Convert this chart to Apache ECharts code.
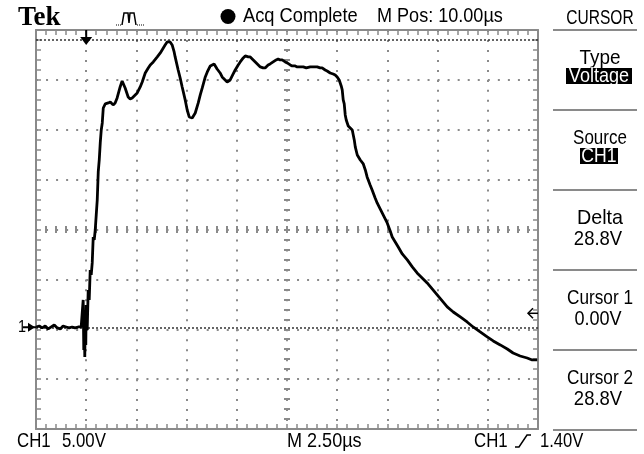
<!DOCTYPE html>
<html><head><meta charset="utf-8">
<script src="https://cdn.jsdelivr.net/npm/echarts@6/dist/echarts.min.js"></script>
<style>html,body{margin:0;padding:0;background:#fff}#c{width:644px;height:454px}</style>
</head><body><div id="c"></div>
<script>
// ---- data (time in µs relative to trigger, CH1 volts) ----
const timeUs = [
 -2.49,-2.34,-2.19,-2.04,-1.89,-1.74,-1.59,-1.44,-1.29,-1.15,-1.00,-0.85,-0.70,-0.55,-0.40,-0.25,
 -0.20,-0.15,-0.12,-0.10,-0.07,-0.05,-0.02,0,0.05,
 0.10,0.15,0.20,0.25,0.30,0.35,0.40,0.45,0.50,0.55,0.60,0.65,0.70,0.75,0.80,0.85,
 0.95,1.10,1.20,1.34,1.44,1.54,1.69,1.79,1.94,2.09,2.19,2.29,2.44,2.54,
 2.69,2.79,2.94,3.09,3.19,3.34,3.54,3.69,3.78,3.93,4.03,4.08,
 4.18,4.28,4.38,4.43,4.58,4.68,4.78,4.93,5.03,5.13,5.28,
 5.43,5.58,5.68,5.78,5.93,6.03,6.18,6.27,6.37,6.52,6.67,6.77,6.92,7.02,7.17,
 7.32,7.42,7.57,7.67,7.82,7.92,8.07,8.17,8.32,8.42,8.57,8.67,8.81,8.91,
 9.06,9.16,9.31,9.46,9.56,9.66,9.76,9.91,10.01,10.16,10.26,10.41,10.51,10.66,10.81,10.96,
 11.16,11.31,11.50,11.65,11.75,11.90,12.00,12.15,12.30,12.40,12.50,12.60,12.65,12.70,12.75,
 12.80,12.85,12.90,12.95,13.05,13.15,13.25,13.35,13.40,13.50,13.65,13.80,13.90,13.99,
 14.14,14.24,14.39,14.49,14.64,14.74,14.89,14.99,15.14,15.24,15.39,15.54,15.74,15.99,
 16.24,16.48,16.73,16.98,17.23,17.48,17.73,17.98,18.28,18.63,18.97,19.27,
 19.62,19.97,20.27,20.62,20.97,21.26,21.61,21.96,22.21,22.46
];
const volts = [
 0.03,0.13,-0.07,0.13,-0.17,0.03,0.23,-0.07,-0.17,0.13,0.03,-0.07,0.03,-0.07,0.03,0.03,
 0.03,2.74,-2.28,1.73,-2.98,0.73,-1.77,2.24,-0.27,
 3.74,2.74,5.74,5.24,6.45,9.05,8.75,9.75,11.26,12.76,15.57,16.77,18.48,19.78,20.48,21.98,
 22.39,22.49,22.59,22.29,22.49,22.99,24.09,24.69,23.99,23.09,22.89,22.99,23.29,23.49,
 24.09,24.59,25.49,25.99,26.30,26.60,27.10,27.50,27.80,28.30,28.60,28.80,
 28.60,28.30,27.60,27.10,25.79,24.99,24.09,22.79,21.78,21.08,20.98,
 21.48,22.49,23.29,23.99,25.09,25.59,26.20,26.40,26.40,25.89,25.49,25.09,24.79,24.59,24.79,
 25.39,25.79,26.30,26.60,27.00,27.20,27.10,27.10,26.80,26.60,26.30,26.10,26.00,26.00,
 26.30,26.40,26.60,26.80,26.90,26.80,26.80,26.60,26.50,26.30,26.20,26.20,26.10,26.10,26.10,26.00,
 26.10,26.10,26.10,26.00,26.00,25.79,25.69,25.49,25.39,25.29,25.09,24.79,24.49,24.19,23.79,
 22.79,22.39,21.28,20.78,20.18,19.98,19.78,18.78,18.08,17.27,16.77,16.37,15.77,15.07,
 14.27,13.76,12.96,12.46,11.86,11.46,10.86,10.46,9.65,9.05,8.55,8.05,7.35,6.75,
 6.05,5.44,4.94,4.44,3.84,3.24,2.64,2.04,1.53,1.03,0.53,0.03,
 -0.47,-0.97,-1.37,-1.77,-2.18,-2.58,-2.88,-3.08,-3.28,-3.28
];
const cursorVolts = [0.00, 28.8];      // cursor 1, cursor 2
const triggerLevel = 1.40;             // V
const voltsPerDiv = 5.00;
const timePerDiv = 2.50;               // µs
const timeRange = [-2.5, 22.5];        // 10 divisions
const gratRange = [-10, 30];           // 8 divisions (graticule)
const dataVoltRange = [-10.2, 29.8];   // ground offset of CH1 marker
const headerTexts = ['Acq Complete', 'M Pos: 10.00µs'];
const footerTexts = ['CH1', '5.00V', 'M 2.50µs', 'CH1', '1.40V'];
const panelTitle = 'CURSOR';
const panelItems = [
  ['Type', 'Voltage', true],
  ['Source', 'CH1', true],
  ['Delta', '28.8V', false],
  ['Cursor 1', '0.00V', false],
  ['Cursor 2', '28.8V', false]
];

// ---- styling ----
const GRAY = '#8a8a8a';
const FONT = '"Liberation Sans",Arial,sans-serif';
const F = s => s + 'px ' + FONT;
const G = {left: 36, top: 30, width: 502, height: 399};

function border(pos, extra) {
  return Object.assign({
    type: 'value', position: pos,
    axisLine: {show: true, onZero: false, lineStyle: {color: GRAY, width: 2}},
    axisTick: {show: true, inside: true, length: 5, lineStyle: {color: GRAY, width: 1.5}},
    minorTick: {show: true, splitNumber: 5, length: 5, lineStyle: {color: GRAY, width: 1.5}},
    axisLabel: {show: false}, splitLine: {show: false}
  }, extra);
}
const tAx = {min: timeRange[0], max: timeRange[1], interval: timePerDiv};
const vAx = {min: gratRange[0], max: gratRange[1], interval: voltsPerDiv};

const chart = echarts.init(document.getElementById('c'), null, {renderer: 'canvas'});
chart.setOption({
  animation: false,
  backgroundColor: '#fff',
  grid: G,
  xAxis: [
    border('bottom', Object.assign({}, tAx, {
      splitLine: {show: true, showMinLine: false, showMaxLine: false,
        lineStyle: {color: GRAY, width: 2, type: [2, 7.975]}}
    })),
    border('top', Object.assign({}, tAx)),
    Object.assign({type: 'value', position: 'bottom', offset: -203}, tAx, {
      axisLine: {show: false, onZero: false},
      axisTick: {show: true, length: 7, lineStyle: {color: GRAY, width: 2}},
      minorTick: {show: true, splitNumber: 5, length: 7, lineStyle: {color: GRAY, width: 2}},
      axisLabel: {show: false}, splitLine: {show: false}
    })
  ],
  yAxis: [
    border('left', Object.assign({}, vAx, {
      splitLine: {show: true, showMinLine: false, showMaxLine: false,
        lineStyle: {color: GRAY, width: 2, type: [2, 8.04]}}
    })),
    border('right', Object.assign({}, vAx)),
    Object.assign({type: 'value', position: 'left', offset: -254}, vAx, {
      axisLine: {show: false, onZero: false},
      axisTick: {show: true, length: 6, lineStyle: {color: GRAY, width: 2}},
      minorTick: {show: true, splitNumber: 5, length: 6, lineStyle: {color: GRAY, width: 2}},
      axisLabel: {show: false}, splitLine: {show: false}
    }),
    {type: 'value', show: false, min: dataVoltRange[0], max: dataVoltRange[1]}
  ],
  series: [{
    type: 'line', xAxisIndex: 0, yAxisIndex: 3,
    data: timeUs.map((t, i) => [t, volts[i]]),
    symbol: 'none', showSymbol: false,
    lineStyle: {color: '#000', width: 2.8},
    markLine: {
      silent: true, symbol: 'none', label: {show: false},
      lineStyle: {color: '#333', width: 1.5, type: [2, 2]},
      data: cursorVolts.map(v => ({yAxis: v}))
    },
    z: 5
  }]
});

// ---- decorations (scope screen chrome) ----
const px = (t, v) => chart.convertToPixel({xAxisIndex: 0, yAxisIndex: 3}, [t, v]);
const gnd = px(timeRange[0], 0);
const trg = px(0, dataVoltRange[1]);
const lvl = px(timeRange[1], triggerLevel);

const txt = (text, x, y, size, sx, opts) => Object.assign({
  type: 'text', x: x, y: y, z: 100, scaleX: sx,
  style: Object.assign({text: text, font: F(size), fill: '#000', align: 'left', verticalAlign: 'middle'}, opts || {})
});
const gfx = [];
// Tek logo
gfx.push({type: 'text', x: 18, y: 18, z: 100, style: {text: 'Tek', font: 'bold 27px "Liberation Serif","DejaVu Serif",serif', fill: '#000', verticalAlign: 'middle'}});
// pulse icon
gfx.push({type: 'polyline', z: 100, shape: {points: [[116, 25], [122, 25]]}, style: {stroke: '#000', lineWidth: 1, lineDash: [1, 1]}});
gfx.push({type: 'polyline', z: 100, shape: {points: [[122, 25], [124, 13], [128, 13], [129, 23], [130, 13], [134, 13], [136, 25]]}, style: {stroke: '#000', lineWidth: 1.5, fill: null}});
gfx.push({type: 'polyline', z: 100, shape: {points: [[137, 25], [145, 25]]}, style: {stroke: '#000', lineWidth: 1, lineDash: [1, 1]}});
// status
gfx.push({type: 'circle', z: 100, shape: {cx: 228, cy: 16.5, r: 7.5}, style: {fill: '#000'}});
gfx.push(txt(headerTexts[0], 243, 16, 21, 0.87));
gfx.push(txt(headerTexts[1], 377, 16, 21, 0.86));
// right panel
gfx.push(txt(panelTitle, 600, 18, 21, 0.74, {align: 'center'}));
const sepY = [30, 110, 190, 270, 350, 430];
sepY.forEach(y => gfx.push({type: 'line', z: 100, shape: {x1: 553, y1: y, x2: 637, y2: y}, style: {stroke: GRAY, lineWidth: 2}}));
const labelScale = [0.9, 0.81, 0.94, 0.82, 0.82];
const valueScale = [0.86, 0.84, 0.88, 0.86, 0.88];
panelItems.forEach((it, i) => {
  const y0 = 30 + i * 80;
  gfx.push(txt(it[0], 600, y0 + 28, 21, labelScale[i], {align: 'center'}));
  if (it[2]) {
    const w = it[1].length > 4 ? 66 : 38;
    gfx.push({type: 'rect', z: 100, shape: {x: 599 - w / 2, y: y0 + 38, width: w, height: 16}, style: {fill: '#000'}});
    gfx.push(txt(it[1], 599, y0 + 46.5, 21, valueScale[i], {align: 'center', fill: '#fff'}));
  } else {
    gfx.push(txt(it[1], 598, y0 + 49, 21, valueScale[i], {align: 'center'}));
  }
});
// footer
gfx.push(txt(footerTexts[0], 17, 441, 21, 0.8));
gfx.push(txt(footerTexts[1], 62, 441, 21, 0.8));
gfx.push(txt(footerTexts[2], 287, 441, 21, 0.86));
gfx.push(txt(footerTexts[3], 474, 441, 21, 0.8));
gfx.push({type: 'polyline', z: 100, shape: {points: [[515, 447], [519, 447], [527, 435], [531, 435]]}, style: {stroke: '#000', lineWidth: 1.5, fill: null}});
gfx.push(txt(footerTexts[4], 540, 441, 21, 0.79));
// ground marker "1 ->"
gfx.push(txt('1', 18, gnd[1], 16, 0.9));
gfx.push({type: 'line', z: 100, shape: {x1: 23, y1: gnd[1], x2: gnd[0], y2: gnd[1]}, style: {stroke: '#000', lineWidth: 2}});
gfx.push({type: 'polygon', z: 100, shape: {points: [[28, gnd[1] - 4.5], [35, gnd[1]], [28, gnd[1] + 4.5]]}, style: {fill: '#000'}});
// trigger position marker
gfx.push({type: 'line', z: 100, shape: {x1: trg[0], y1: G.top, x2: trg[0], y2: G.top + 9}, style: {stroke: '#000', lineWidth: 2}});
gfx.push({type: 'polygon', z: 100, shape: {points: [[trg[0] - 6, G.top + 7], [trg[0] + 6, G.top + 7], [trg[0], G.top + 15]]}, style: {fill: '#000'}});
// trigger level marker
gfx.push({type: 'polyline', z: 100, shape: {points: [[lvl[0] - 5, lvl[1] - 5], [lvl[0] - 10, lvl[1]], [lvl[0] - 5, lvl[1] + 5]]}, style: {stroke: '#000', lineWidth: 1.5, fill: null}});
gfx.push({type: 'line', z: 100, shape: {x1: lvl[0] - 10, y1: lvl[1], x2: lvl[0], y2: lvl[1]}, style: {stroke: '#000', lineWidth: 1.5}});

chart.setOption({graphic: gfx});
</script>
</body></html>
